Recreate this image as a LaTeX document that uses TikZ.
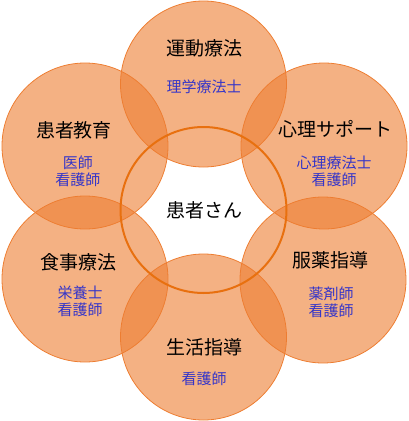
\documentclass[tikz,border=0pt]{standalone}
\usepackage{fontspec}
\setmainfont{Noto Sans CJK JP}
\definecolor{ring}{HTML}{ED7D31}
\definecolor{hub}{HTML}{E8700F}
\definecolor{staff}{HTML}{3535C8}
\begin{document}
\begin{tikzpicture}[x=1pt,y=-1pt,
  petal/.style={circle,minimum size=166pt,inner sep=0pt,draw=ring,line width=0.8pt,fill=ring,fill opacity=0.6},
  hubring/.style={circle,minimum size=166pt,inner sep=0pt,draw=hub,line width=2pt},
  title/.style={font=\fontsize{19}{21}\selectfont,text=black,inner sep=0pt},
  role/.style={font=\fontsize{15}{17}\selectfont,text=staff,align=center,inner sep=0pt}]
\useasboundingbox (0,0) rectangle (408,421);
\node[petal] (c1) at (203.5,84) {};
\node[petal] (c2) at (85,146) {};
\node[petal] (c3) at (324,146) {};
\node[petal] (c4) at (85,279) {};
\node[petal] (c5) at (323,280) {};
\node[petal] (c6) at (203.5,337) {};
\node[hubring] (hub) at (203.5,210) {};
\node[title] (t1) at (204,48) {運動療法};
\node[role] (r1) at (204,87) {理学療法士};
\node[title] (t2) at (74,130) {患者教育};
\node[role] (r2) at (78,171.5) {医師\\看護師};
\node[title] (t3) at (335,129) {心理サポート};
\node[role] (r3) at (334,171.5) {心理療法士\\看護師};
\node[title] (t0) at (204,210) {患者さん};
\node[title] (t4) at (79,262) {食事療法};
\node[role] (r4) at (80,301.5) {栄養士\\看護師};
\node[title] (t5) at (330,260) {服薬指導};
\node[role] (r5) at (331,302) {薬剤師\\看護師};
\node[title] (t6) at (204,347) {生活指導};
\node[role] (r6) at (204,379) {看護師};
\end{tikzpicture}
\end{document}
